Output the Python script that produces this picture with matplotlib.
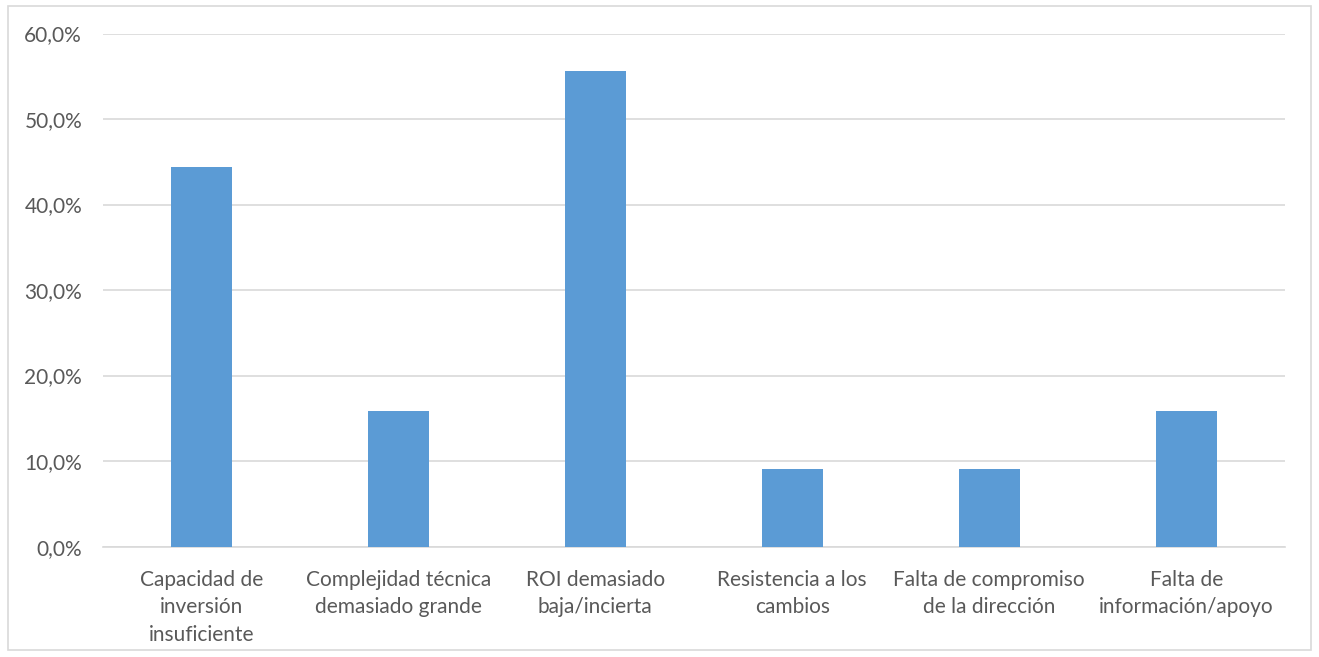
import matplotlib.pyplot as plt
from matplotlib.patches import Rectangle
from matplotlib.ticker import FuncFormatter

# datos
categorias = ['Capacidad de\ninversión\ninsuficiente',
              'Complejidad técnica\ndemasiado grande',
              'ROI demasiado\nbaja/incierta',
              'Resistencia a los\ncambios',
              'Falta de compromiso\nde la dirección',
              'Falta de\ninformación/apoyo']
valores = [44.4, 15.9, 55.6, 9.1, 9.1, 15.9]
y_ticks = [0, 10, 20, 30, 40, 50, 60]

plt.rcParams['font.family'] = ['Lato', 'DejaVu Sans']
gris = '#595959'

fig = plt.figure(figsize=(13.19, 6.57), dpi=100)
ax = fig.add_axes([0.078, 0.168, 0.896, 0.781])

x = range(len(categorias))
ax.bar(x, valores, width=0.31, color='#5b9bd5', zorder=3)

ax.set_xlim(-0.5, len(categorias) - 0.5)
ax.set_ylim(0, 60)
ax.set_yticks(y_ticks)
ax.yaxis.set_major_formatter(FuncFormatter(lambda v, p: f'{v:.1f}%'.replace('.', ',')))
ax.set_xticks(list(x))
ax.set_xticklabels(categorias, linespacing=1.45)

ax.grid(axis='y', color='#d9d9d9', linewidth=1.2, zorder=0)
for s in ['top', 'right', 'left']:
    ax.spines[s].set_visible(False)
ax.spines['bottom'].set_color('#d9d9d9')
ax.spines['bottom'].set_linewidth(1.2)
ax.tick_params(axis='both', length=0, colors=gris, labelsize=15)
ax.tick_params(axis='x', pad=17)
ax.tick_params(axis='y', pad=15)

# marco exterior
fig.patches.append(Rectangle((0.006, 0.01), 0.988, 0.981, transform=fig.transFigure,
                             fill=False, edgecolor='#d9d9d9', linewidth=1.2))

fig.savefig('out.png', dpi=100)
